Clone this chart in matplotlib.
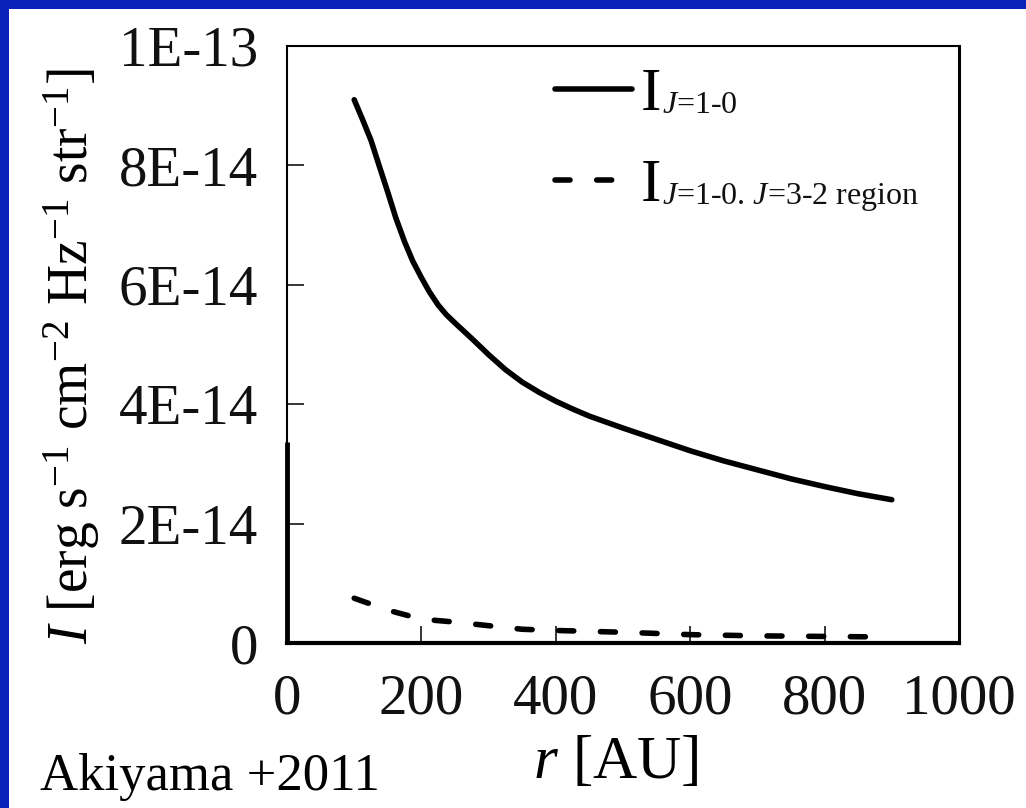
import matplotlib.pyplot as plt
from matplotlib.patches import Rectangle

plt.rcParams['font.family'] = ['Liberation Serif', 'DejaVu Serif']
plt.rcParams['mathtext.fontset'] = 'custom'
plt.rcParams['mathtext.rm'] = 'Liberation Serif'
plt.rcParams['mathtext.it'] = 'Liberation Serif:italic'

# intensity profiles, I in units of 1E-14 erg s-1 cm-2 Hz-1 str-1
r_solid = [100, 112, 125, 137, 150, 162, 175, 187, 200, 212, 225, 237, 250, 275, 300,
           325, 350, 375, 400, 425, 450, 500, 550, 600, 650, 700, 750, 800, 850, 900]
I_solid = [9.1, 8.78, 8.42, 8.0, 7.55, 7.12, 6.72, 6.4, 6.12, 5.88, 5.66, 5.5, 5.36, 5.1, 4.83,
           4.58, 4.37, 4.2, 4.05, 3.92, 3.8, 3.6, 3.41, 3.22, 3.05, 2.9, 2.75, 2.62, 2.5, 2.4]

r_dash = [100, 150, 200, 250, 300, 350, 400, 500, 600, 700, 800, 900]
I_dash = [0.75, 0.55, 0.40, 0.35, 0.29, 0.23, 0.21, 0.18, 0.14, 0.12, 0.11, 0.10]

# short heavy stroke on the left axis at r = 0
r_edge = [0, 0]
I_edge = [0, 3.37]

x_ticks = [0, 200, 400, 600, 800, 1000]
y_ticks = [0, 2, 4, 6, 8, 10]
y_ticklabels = ['0', '2E-14', '4E-14', '6E-14', '8E-14', '1E-13']

fig = plt.figure(figsize=(10.26, 8.08), dpi=100, facecolor='#0a22b8')
# white slide panel inside the blue frame
fig.patches.append(Rectangle((9 / 1026, 0), 1 - 9 / 1026, 799 / 808,
                             transform=fig.transFigure, facecolor='white',
                             edgecolor='none', zorder=-5))

ax = fig.add_axes([287 / 1026, 165 / 808, 672 / 1026, 597 / 808])
ax.set_facecolor('white')

l1, = ax.plot(r_solid, I_solid, color='black', lw=4.0, solid_capstyle='round',
              solid_joinstyle='round')
l2, = ax.plot(r_dash, I_dash, color='black', lw=4.0, dashes=(2.7, 4.8),
              dash_capstyle='round')
ax.plot(r_edge, I_edge, color='black', lw=3.5, solid_capstyle='butt',
        clip_on=False, zorder=5)

ax.set_xlim(0, 1000)
ax.set_ylim(0, 10)
ax.set_xticks(x_ticks)
ax.set_yticks(y_ticks)
ax.set_yticklabels(y_ticklabels)
ax.tick_params(direction='in', length=12, width=1.1, color='black',
               labelcolor='#111111')
ax.tick_params(axis='y', pad=21, labelsize=41)
ax.tick_params(axis='x', pad=22, labelsize=41)

for side in ['left', 'top']:
    ax.spines[side].set_linewidth(1.5)
ax.spines['right'].set_linewidth(2.2)
ax.spines['bottom'].set_linewidth(3)

ax.set_xlabel(r'$r$ [AU]', fontsize=44)
ax.xaxis.set_label_coords(0.49, -0.155)
ax.set_ylabel(r'$I$ [erg s$^{-1}$ cm$^{-2}$ Hz$^{-1}$ str$^{-1}$]', fontsize=40)
ax.yaxis.set_label_coords(-0.275, 0.48)

leg = ax.legend([l1, l2], ['I', 'I'], loc='upper left', bbox_to_anchor=(0.354, 1.015),
                frameon=False, fontsize=44, handlelength=1.25, handletextpad=0.15,
                labelspacing=0.57, borderpad=0.0)

subs = [r'$J$=1-0', r'$J$=1-0. $J$=3-2 region']
fig.canvas.draw()
inv = fig.transFigure.inverted()
for txt, s in zip(leg.get_texts(), subs):
    bb = txt.get_window_extent()
    x, y = inv.transform((bb.x1 + 1, bb.y0 + 10))
    fig.text(x, y, s, fontsize=23, ha='left', va='baseline', color='#111111')

fig.text(40 / 1026, 18 / 808, 'Akiyama +2011', fontsize=38, va='baseline', color='black')

fig.savefig('out.png', dpi=100, facecolor=fig.get_facecolor())
